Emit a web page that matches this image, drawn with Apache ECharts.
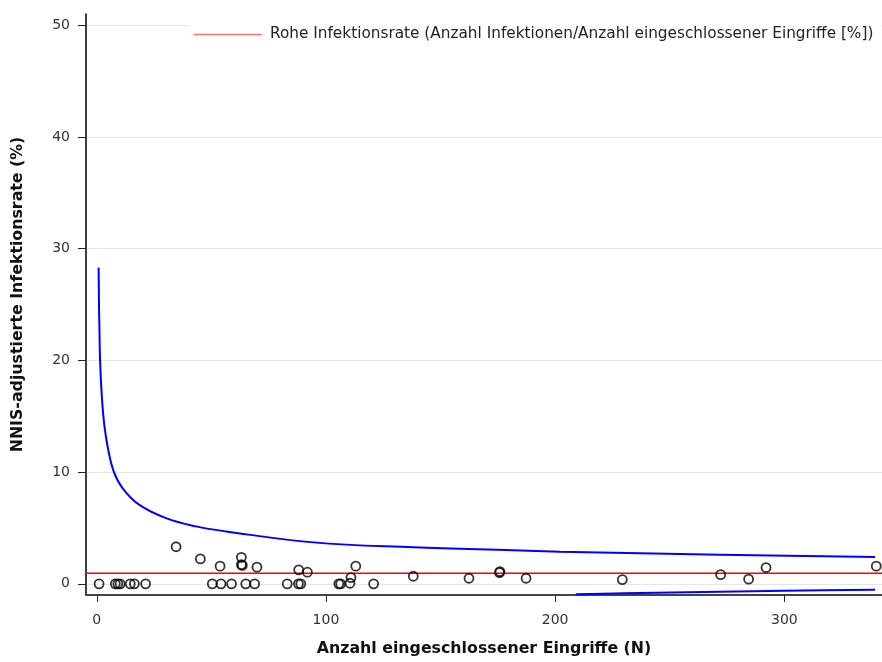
<!DOCTYPE html>
<html>
<head>
<meta charset="utf-8">
<script src="https://cdn.jsdelivr.net/npm/echarts@6/dist/echarts.min.js"></script>
<style>
  html, body { margin: 0; padding: 0; background: #fff; }
  #chart { width: 882px; height: 662px; }
</style>
</head>
<body>
<div id="chart"></div>
<script>
// axis ticks
const xTicks = [0, 100, 200, 300]
const yTicks = [0, 10, 20, 30, 40, 50]

// crude infection rate (red line)
const rohRate = 0.94
const rohName = 'Rohe Infektionsrate (Anzahl Infektionen/Anzahl eingeschlossener Eingriffe [%])'

// hospitals: number of procedures / adjusted rate
const pointsN = [
  1.0, 8.1, 9.2, 10.2, 14.6, 16.4, 21.3, 50.4, 54.2, 58.8, 65.0, 68.9,
  83.1, 88.0, 89.0, 105.6, 106.4, 110.5, 120.8,
  34.6, 45.2, 53.8, 63.1, 63.1, 63.5, 69.9, 88.1, 91.9, 110.9, 113.0,
  138.1, 162.4, 175.7, 175.9, 187.3, 229.3, 272.2, 284.4, 292.0, 340.1
]
const pointsRate = [
  0, 0, 0, 0, 0, 0, 0, 0, 0, 0, 0, 0,
  0, 0, 0, 0, 0, 0.05, 0,
  3.32, 2.23, 1.58, 2.37, 1.72, 1.65, 1.49, 1.25, 1.04, 0.56, 1.58,
  0.68, 0.5, 1.0, 1.1, 0.5, 0.38, 0.82, 0.42, 1.45, 1.58
]

// upper control limit (blue)
const upperN = [0.8, 1.0, 1.15, 1.44, 2.2, 3.3, 5.0, 7.5, 11.3, 18.6, 30.2, 43.3, 56.4, 94.5, 138.1, 181.6, 202, 272, 339.6]
const upperRate = [28.3, 24.5, 23.0, 20.0, 16.8, 14.2, 12.0, 10.0, 8.55, 7.06, 5.88, 5.14, 4.69, 3.71, 3.27, 3.0, 2.88, 2.61, 2.40]

// lower control limit (blue, only visible on the right)
const lowerN = [209, 230, 272, 300, 339.6]
const lowerRate = [-0.93, -0.85, -0.71, -0.63, -0.53]

const xMin = -4.7
const xMax = 342.6
const yMin = -1
const yMax = 51

const zip = (a, b) => a.map((v, i) => [v, b[i]])

const chart = echarts.init(document.getElementById('chart'))

const font = 'DejaVu Sans, Arial, sans-serif'
const labelStyle = { color: '#333', fontSize: 14, fontFamily: font }
const nameStyle = { color: '#111', fontSize: 15.8, fontWeight: 'bold', fontFamily: font }

chart.setOption({
  animation: false,
  grid: { left: 86, right: 0, top: 14, bottom: 65 },
  legend: {
    data: [rohName],
    left: 190,
    top: 24,
    padding: [3, 8, 3, 4],
    backgroundColor: '#fff',
    icon: 'rect',
    itemWidth: 68,
    itemHeight: 1.5,
    itemStyle: { color: '#ff6f6f' },
    textStyle: { color: '#222', fontSize: 15.3, fontFamily: font, padding: [0, 0, 0, 3] }
  },
  xAxis: {
    type: 'value',
    min: xMin,
    max: xMax,
    name: 'Anzahl eingeschlossener Eingriffe (N)',
    nameLocation: 'middle',
    nameGap: 46,
    nameTextStyle: nameStyle,
    axisLine: { onZero: false, lineStyle: { color: '#444', width: 2 } },
    axisTick: { customValues: xTicks, length: 7, lineStyle: { color: '#222' } },
    axisLabel: { customValues: xTicks, margin: 18, ...labelStyle },
    splitLine: { show: false }
  },
  yAxis: {
    type: 'value',
    min: yMin,
    max: yMax,
    name: 'NNIS-adjustierte Infektionsrate (%)',
    nameLocation: 'middle',
    nameGap: 60,
    nameTextStyle: { ...nameStyle, padding: [0, 0, 0, 20] },
    axisLine: { show: true, onZero: false, lineStyle: { color: '#000', width: 1.5 } },
    axisTick: { show: true, customValues: yTicks, length: 8, lineStyle: { color: '#222' } },
    axisLabel: { customValues: yTicks, margin: 16, ...labelStyle },
    splitLine: { show: true, lineStyle: { color: '#e6e6e6', width: 1 } }
  },
  series: [
    {
      name: 'upper',
      type: 'line',
      data: zip(upperN, upperRate),
      symbol: 'none',
      smooth: 0.4,
      lineStyle: { color: '#0000ff', width: 2 }
    },
    {
      name: 'lower',
      type: 'line',
      data: zip(lowerN, lowerRate),
      symbol: 'none',
      smooth: 0.3,
      lineStyle: { color: '#0000ff', width: 2 }
    },
    {
      name: rohName,
      type: 'line',
      data: [[xMin, rohRate], [xMax, rohRate]],
      symbol: 'none',
      itemStyle: { color: '#ff0000' },
      lineStyle: { color: '#ff0000', width: 1.5 }
    },
    {
      name: 'hospitals',
      type: 'scatter',
      data: zip(pointsN, pointsRate),
      symbol: 'circle',
      symbolSize: 9,
      itemStyle: { color: 'rgba(0,0,0,0)', borderColor: '#000', borderWidth: 1.8 },
      z: 5
    }
  ]
})
</script>
</body>
</html>
